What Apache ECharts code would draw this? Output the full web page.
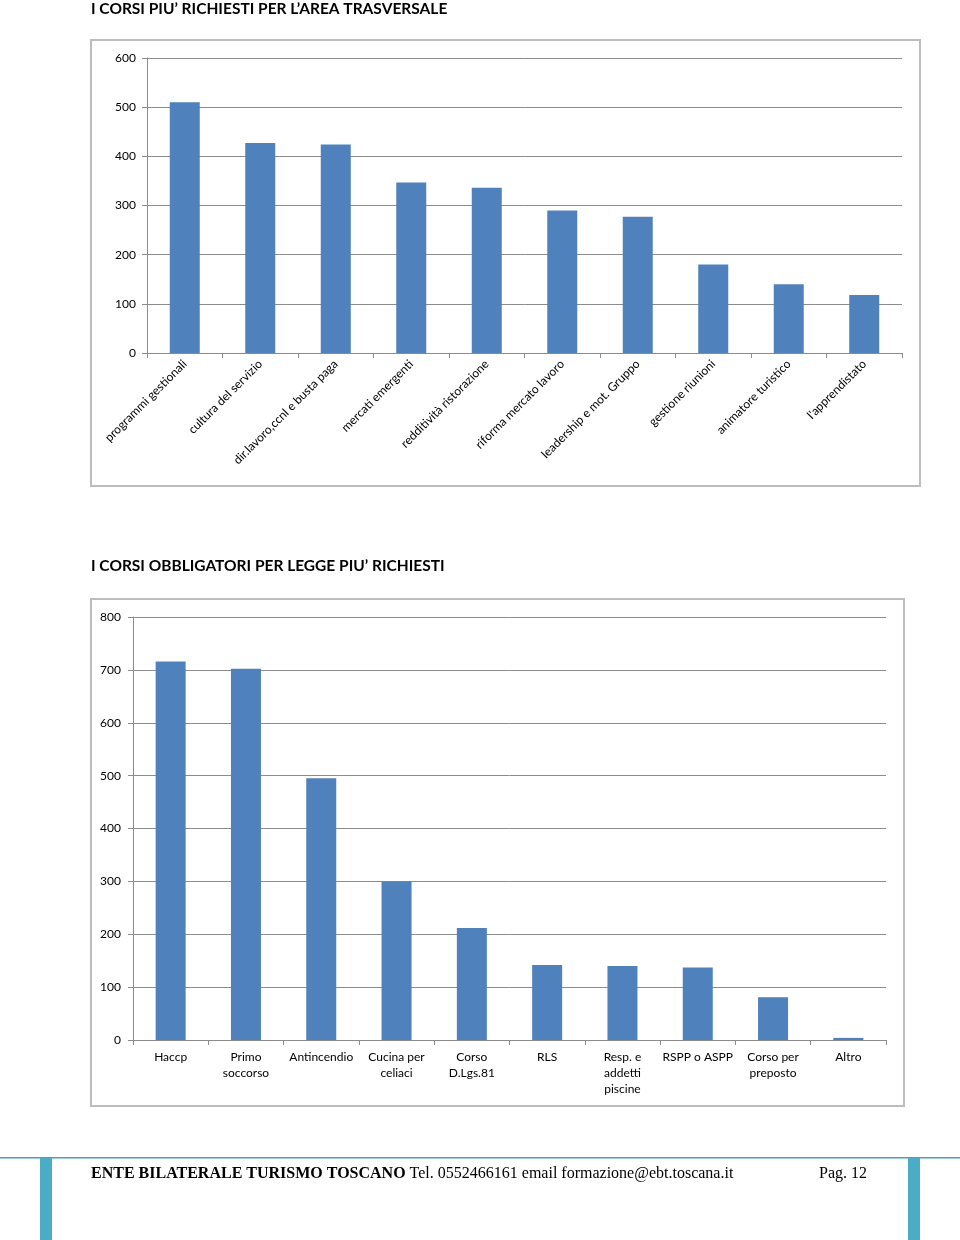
<!DOCTYPE html>
<html><head><meta charset="utf-8">
<script src="https://cdn.jsdelivr.net/npm/echarts@6/dist/echarts.min.js"></script>
<style>html,body{margin:0;padding:0;background:#fff}#c{width:960px;height:1240px}</style>
</head><body><div id="c"></div>
<script>
const title1 = "I CORSI PIU’ RICHIESTI PER L’AREA TRASVERSALE";
const title2 = "I CORSI OBBLIGATORI PER LEGGE PIU’ RICHIESTI";
const cats1 = ["programmi gestionali","cultura del servizio","dir.lavoro,ccnl e busta paga","mercati emergenti","redditività ristorazione","riforma mercato lavoro","leadership e mot. Gruppo","gestione riunioni","animatore turistico","l'apprendistato"];
const vals1 = [510, 427, 424, 347, 336, 290, 277, 180, 140, 118];
const cats2 = ["Haccp","Primo\nsoccorso","Antincendio","Cucina per\nceliaci","Corso\nD.Lgs.81","RLS","Resp. e\naddetti\npiscine","RSPP o ASPP","Corso per\npreposto","Altro"];
const vals2 = [716, 702, 495, 300, 212, 142, 140, 137, 81, 4];
const footerBold = "ENTE BILATERALE TURISMO TOSCANO";
const footerRest = " Tel. 0552466161 email formazione@ebt.toscana.it";
const pageLabel = "Pag. 12";

const FONT = "Lato, 'Open Sans', sans-serif";
const axisCol = '#8c8c8c';
const chart = echarts.init(document.getElementById('c'), null, {renderer:'canvas'});
function yAx(idx, max, margin){
  return {type:'value', gridIndex:idx, min:0, max:max, interval:100,
    axisLine:{show:true, lineStyle:{color:axisCol}},
    axisTick:{show:true, length:5, lineStyle:{color:axisCol}},
    splitLine:{lineStyle:{color:axisCol, width:1}},
    axisLabel:{color:'#000', fontFamily:FONT, fontSize:12, margin:margin}};
}
chart.setOption({
  animation:false,
  textStyle:{fontFamily:FONT},
  grid:[
    {left:147, top:58, width:755, height:295},
    {left:133, top:617, width:753, height:423}
  ],
  xAxis:[
    {type:'category', gridIndex:0, data:cats1,
      axisLine:{lineStyle:{color:axisCol}},
      axisTick:{show:true, length:5, lineStyle:{color:axisCol}},
      axisLabel:{interval:0, rotate:45, color:'#000', fontFamily:FONT, fontSize:12, margin:9}},
    {type:'category', gridIndex:1, data:cats2,
      axisLine:{lineStyle:{color:axisCol}},
      axisTick:{show:true, length:5, lineStyle:{color:axisCol}},
      axisLabel:{interval:0, color:'#000', fontFamily:FONT, fontSize:12, margin:9, lineHeight:16}}
  ],
  yAxis:[yAx(0,600,11), yAx(1,800,12)],
  series:[
    {type:'bar', xAxisIndex:0, yAxisIndex:0, data:vals1, barWidth:30, itemStyle:{color:'#4f81bd'}},
    {type:'bar', xAxisIndex:1, yAxisIndex:1, data:vals2, barWidth:30, itemStyle:{color:'#4f81bd'}}
  ],
  graphic:[
    {type:'rect', shape:{x:91, y:40, width:829, height:446}, style:{fill:'none', stroke:'#bdbdbd', lineWidth:2}, z:-1},
    {type:'rect', shape:{x:91, y:599, width:813, height:507}, style:{fill:'none', stroke:'#bdbdbd', lineWidth:2}, z:-1},
    {type:'text', left:91, top:1, style:{text:title1, font:"bold 15.5px "+FONT, fill:'#000'}},
    {type:'text', left:91, top:558, style:{text:title2, font:"bold 15.5px "+FONT, fill:'#000'}},
    {type:'rect', shape:{x:0, y:1157, width:960, height:1.5}, style:{fill:'#4a9fc0'}},
    {type:'rect', shape:{x:40, y:1158, width:12, height:82}, style:{fill:'#4bacc6'}},
    {type:'rect', shape:{x:908, y:1158, width:12, height:82}, style:{fill:'#4bacc6'}},
    {type:'text', left:91, top:1166, style:{text:'{b|'+footerBold+'}{r|'+footerRest+'}',
      rich:{b:{font:"bold 16px 'Liberation Serif', serif", fill:'#000'}, r:{font:"16px 'Liberation Serif', serif", fill:'#000'}}}},
    {type:'text', left:819, top:1166, style:{text:pageLabel, font:"16px 'Liberation Serif', serif", fill:'#000'}}
  ]
});
</script></body></html>
